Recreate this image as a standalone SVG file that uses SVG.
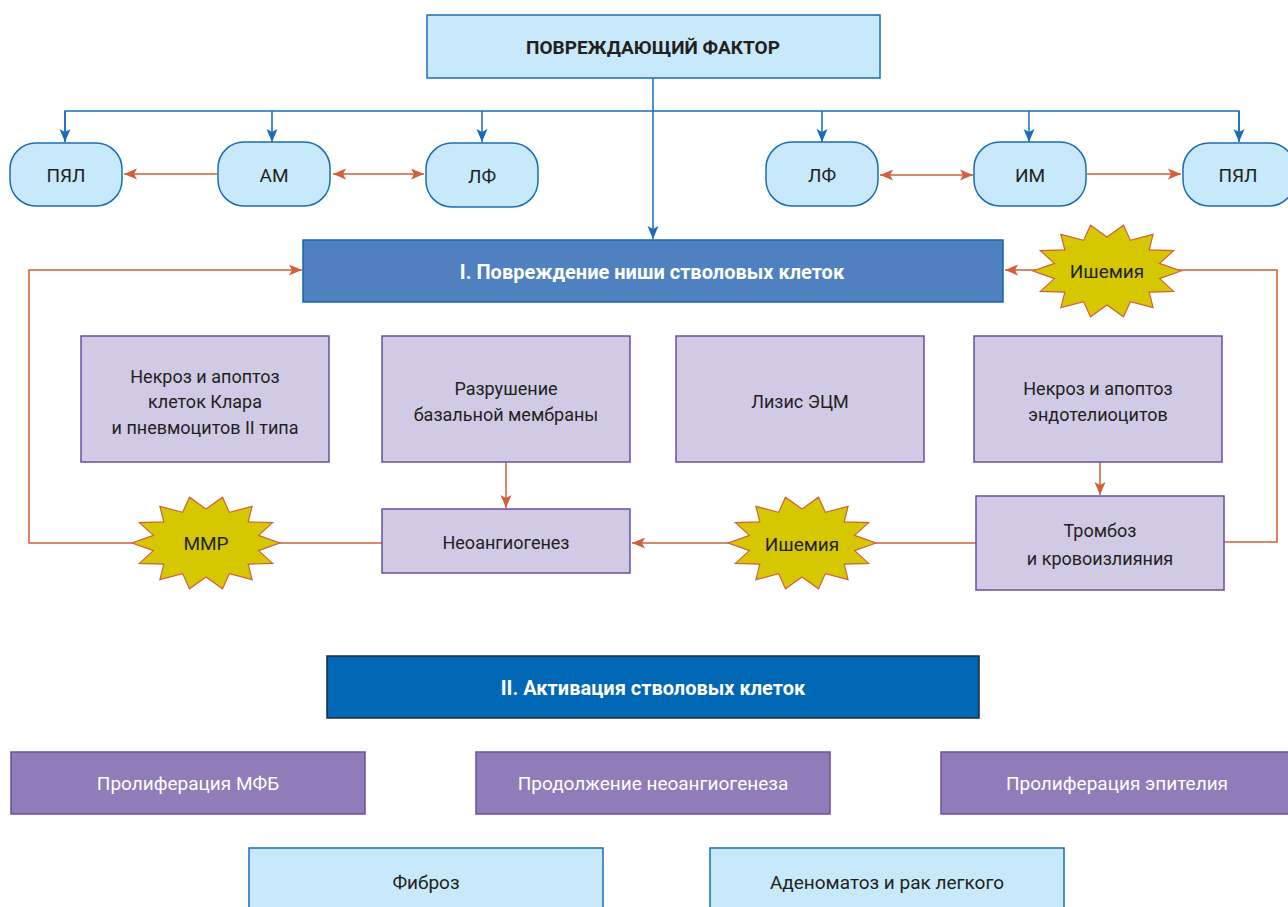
<svg xmlns="http://www.w3.org/2000/svg" xmlns:xlink="http://www.w3.org/1999/xlink" width="1288" height="907" viewBox="0 0 1288 907">
<defs>
<style>
text{font-family:Roboto,"Liberation Sans","DejaVu Sans",sans-serif;text-anchor:middle;dominant-baseline:central;fill:#231f20}
.lb{fill:#c8e9f9;stroke:#1a6cb8;stroke-width:1.5}
.pl{fill:#d0cae4;stroke:#6a4fa0;stroke-width:1.5}
.pd{fill:#8f7cb9;stroke:#6a4fa0;stroke-width:1.5}
.t18{font-size:18px}
.t19{font-size:19px}
.t20{font-size:20px}
.w{fill:#ffffff}
.b{font-weight:bold}
.bl{fill:none;stroke:#1a6cb8;stroke-width:1.5}
.or{fill:none;stroke:#d2603a;stroke-width:1.5}
.star{fill:#d6c800;stroke:#d2603a;stroke-width:1.2}
</style>
<marker id="ab" markerUnits="userSpaceOnUse" markerWidth="14" markerHeight="14" viewBox="0 0 14 14" refX="13" refY="7" orient="auto"><path d="M0,1.5 L13,7 L0,12.5 L3,7 Z" fill="#1a6cb8"/></marker>
<marker id="ao" markerUnits="userSpaceOnUse" markerWidth="14" markerHeight="14" viewBox="0 0 14 14" refX="13" refY="7" orient="auto-start-reverse"><path d="M0,1.5 L13,7 L0,12.5 L3,7 Z" fill="#d2603a"/></marker>
<polygon id="star" class="star" points="74,0 52.6,7.6 66.7,20.4 42.2,21.2 46.1,36.7 23.4,30.6 16.5,45.8 0,34 -16.5,45.8 -23.4,30.6 -46.1,36.7 -42.2,21.2 -66.7,20.4 -52.6,7.6 -74,0 -52.6,-7.6 -66.7,-20.4 -42.2,-21.2 -46.1,-36.7 -23.4,-30.6 -16.5,-45.8 0,-34 16.5,-45.8 23.4,-30.6 46.1,-36.7 42.2,-21.2 66.7,-20.4 52.6,-7.6"/>
</defs>
<rect width="1288" height="907" fill="#ffffff"/>

<g id="connectors">
<path class="bl" d="M653,78 V239" marker-end="url(#ab)"/>
<path class="bl" d="M65,141 V111 H1239 V141" />
<path class="bl" d="M65,111 V142" marker-end="url(#ab)"/>
<path class="bl" d="M272,111 V142" marker-end="url(#ab)"/>
<path class="bl" d="M482,111 V142" marker-end="url(#ab)"/>
<path class="bl" d="M822,111 V142" marker-end="url(#ab)"/>
<path class="bl" d="M1029,111 V142" marker-end="url(#ab)"/>
<path class="bl" d="M1239,111 V142" marker-end="url(#ab)"/>
<path class="or" d="M218,174 H124" marker-end="url(#ao)"/>
<path class="or" d="M333,174 H424" marker-start="url(#ao)" marker-end="url(#ao)"/>
<path class="or" d="M880,175 H973" marker-start="url(#ao)" marker-end="url(#ao)"/>
<path class="or" d="M1087,174 H1181" marker-end="url(#ao)"/>
<path class="or" d="M382,543 H29 V270 H302" marker-end="url(#ao)"/>
<path class="or" d="M506,462 V508" marker-end="url(#ao)"/>
<path class="or" d="M1100,462 V495" marker-end="url(#ao)"/>
<path class="or" d="M976,543 H632" marker-end="url(#ao)"/>
<path class="or" d="M1224,542 H1277 V270 H1005" marker-end="url(#ao)"/>
</g>

<g id="n-factor"><rect class="lb" x="427" y="15" width="453" height="63"/><text class="t19 b" x="653" y="47" font-size="19.5">ПОВРЕЖДАЮЩИЙ ФАКТОР</text></g>

<g id="n-pyal1"><rect class="lb" x="10" y="143" width="112" height="63" rx="26"/><text class="t19" x="66" y="175">ПЯЛ</text></g>
<g id="n-am"><rect class="lb" x="218" y="142" width="112" height="64" rx="26"/><text class="t19" x="274" y="175">АМ</text></g>
<g id="n-lf1"><rect class="lb" x="426" y="143" width="112" height="64" rx="26"/><text class="t19" x="482" y="176">ЛФ</text></g>
<g id="n-lf2"><rect class="lb" x="766" y="142" width="112" height="64" rx="26"/><text class="t19" x="822" y="175">ЛФ</text></g>
<g id="n-im"><rect class="lb" x="974" y="142" width="112" height="64" rx="26"/><text class="t19" x="1030" y="175">ИМ</text></g>
<g id="n-pyal2"><rect class="lb" x="1183" y="143" width="112" height="63" rx="26"/><text class="t19" x="1238" y="175">ПЯЛ</text></g>

<g id="n-stage1"><rect x="303" y="240" width="700" height="62" fill="#4f81c1" stroke="#1565b0" stroke-width="1.5"/><text class="t20 b w" x="652" y="272">I. Повреждение ниши стволовых клеток</text></g>

<g id="n-ischemia1"><use xlink:href="#star" x="1107" y="271"/><text class="t19" x="1107" y="271">Ишемия</text></g>

<g id="n-necrosis1"><rect class="pl" x="81" y="336" width="248" height="126"/><text class="t18" x="205" y="376">Некроз и апоптоз</text><text class="t18" x="205" y="401">клеток Клара</text><text class="t18" x="205" y="427">и пневмоцитов II типа</text></g>
<g id="n-membrane"><rect class="pl" x="382" y="336" width="248" height="126"/><text class="t18" x="506" y="388">Разрушение</text><text class="t18" x="506" y="414">базальной мембраны</text></g>
<g id="n-ecm"><rect class="pl" x="676" y="336" width="248" height="126"/><text class="t18" x="800" y="401">Лизис ЭЦМ</text></g>
<g id="n-necrosis2"><rect class="pl" x="974" y="336" width="248" height="126"/><text class="t18" x="1098" y="388">Некроз и апоптоз</text><text class="t18" x="1098" y="414">эндотелиоцитов</text></g>

<g id="n-neoangio"><rect class="pl" x="382" y="509" width="248" height="64"/><text class="t18" x="506" y="542">Неоангиогенез</text></g>
<g id="n-thrombosis"><rect class="pl" x="976" y="496" width="248" height="94"/><text class="t18" x="1100" y="530">Тромбоз</text><text class="t18" x="1100" y="558">и кровоизлияния</text></g>

<g id="n-mmp"><use xlink:href="#star" x="206" y="543"/><text class="t19" x="206" y="543">MMP</text></g>
<g id="n-ischemia2"><use xlink:href="#star" x="802" y="543"/><text class="t19" x="802" y="544">Ишемия</text></g>

<g id="n-stage2"><rect x="327" y="656" width="652" height="62" fill="#0067b4" stroke="#1d2a3a" stroke-width="1.5"/><text class="t20 b w" x="653" y="688">II. Активация стволовых клеток</text></g>

<g id="n-mfb"><rect class="pd" x="11" y="752" width="354" height="62"/><text class="t19 w" x="188" y="783">Пролиферация МФБ</text></g>
<g id="n-neo2"><rect class="pd" x="476" y="752" width="354" height="62"/><text class="t19 w" x="653" y="783">Продолжение неоангиогенеза</text></g>
<g id="n-epith"><rect class="pd" x="941" y="752" width="354" height="62"/><text class="t19 w" x="1117" y="783">Пролиферация эпителия</text></g>

<g id="n-fibrosis"><rect class="lb" x="249" y="848" width="354" height="70"/><text class="t19" x="426" y="882">Фиброз</text></g>
<g id="n-adeno"><rect class="lb" x="710" y="848" width="354" height="70"/><text class="t19" x="887" y="882">Аденоматоз и рак легкого</text></g>
</svg>
